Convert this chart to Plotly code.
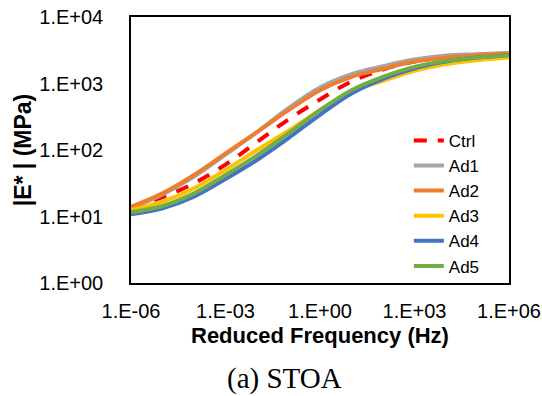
import plotly.graph_objects as go

# Reduced frequency (Hz), one point per decade
freq = [1e-6, 1e-5, 1e-4, 1e-3, 1e-2, 1e-1, 1e0, 1e1, 1e2, 1e3, 1e4, 1e5, 1e6]

# |E*| (MPa)
ctrl = [13.8, 19.5, 31.6, 60.3, 131.8, 288.4, 575.4, 1071, 1622, 2138, 2512, 2692, 2818]
ad1 = [13.2, 21.4, 39.8, 85.1, 186.2, 426.6, 871.0, 1380, 1820, 2291, 2630, 2754, 2884]
ad2 = [14.0, 22.3, 42.1, 89.1, 186.2, 398.1, 794.3, 1259, 1660, 2138, 2455, 2692, 2818]
ad3 = [12.5, 16.7, 26.6, 50.0, 100.0, 195.0, 398.1, 758.6, 1096, 1549, 1950, 2239, 2455]
ad4 = [10.8, 13.3, 19.9, 36.6, 70.8, 151.4, 338.8, 707.9, 1175, 1698, 2138, 2455, 2692]
ad5 = [11.6, 14.4, 22.3, 42.1, 83.2, 177.8, 398.1, 794.3, 1259, 1778, 2188, 2455, 2692]

names = ["Ctrl", "Ad1", "Ad2", "Ad3", "Ad4", "Ad5"]
series = [ctrl, ad1, ad2, ad3, ad4, ad5]
colors = ["#FF0000", "#A5A5A5", "#ED7D31", "#FFC000", "#4472C4", "#70AD47"]
dashes = ["13px,11px", "solid", "solid", "solid", "solid", "solid"]

x_tickvals = [1e-6, 1e-3, 1e0, 1e3, 1e6]
x_ticktext = ["1.E-06", "1.E-03", "1.E+00", "1.E+03", "1.E+06"]
y_tickvals = [1, 10, 100, 1000, 10000]
y_ticktext = ["1.E+00", "1.E+01", "1.E+02", "1.E+03", "1.E+04"]

fig = go.Figure()
for name, vals, col, dsh in zip(names, series, colors, dashes):
    fig.add_trace(go.Scatter(
        x=freq, y=vals, name=name, mode="lines",
        line=dict(color=col, width=4, dash=dsh, shape="spline", smoothing=1.0),
    ))

font_main = "Liberation Sans, Arial, sans-serif"

fig.update_layout(
    width=542, height=396,
    margin=dict(l=131, r=33, t=17, b=113, autoexpand=False),
    paper_bgcolor="white", plot_bgcolor="white",
    showlegend=True,
    legend=dict(
        x=0.735, y=0.602, xanchor="left", yanchor="top",
        bgcolor="rgba(0,0,0,0)", borderwidth=0,
        font=dict(family=font_main, size=17, color="#000000"),
        tracegroupgap=0,
    ),
    font=dict(family=font_main, color="#000000"),
)

fig.update_xaxes(
    type="log", range=[-6, 6], automargin=False,
    tickvals=x_tickvals, ticktext=x_ticktext,
    tickfont=dict(family=font_main, size=20, color="#000000"),
    showgrid=False, zeroline=False,
    showline=True, linecolor="#000000", linewidth=1.5, mirror=True,
    ticks="", ticklabelstandoff=9,
)
fig.update_yaxes(
    type="log", range=[0, 4], automargin=False,
    tickvals=y_tickvals, ticktext=y_ticktext,
    tickfont=dict(family=font_main, size=20, color="#000000"),
    showgrid=False, zeroline=False,
    showline=True, linecolor="#000000", linewidth=1.5, mirror=True,
    ticks="", ticklabelstandoff=22,
    title=dict(text="<b>|E* | (MPa)</b>",
               font=dict(family=font_main, size=23, color="#000000"), standoff=1),
)

fig.add_annotation(
    text="<b>Reduced Frequency (Hz)</b>", xref="paper", yref="paper",
    x=0.5, y=-(335 - 283) / 266,
    xanchor="center", yanchor="middle", showarrow=False,
    font=dict(family=font_main, size=22, color="#000000"),
)

fig.add_annotation(
    text="(a) STOA", xref="paper", yref="paper",
    x=(284 - 131) / 378, y=-(378 - 283) / 266,
    xanchor="center", yanchor="middle", showarrow=False,
    font=dict(family="Liberation Serif, Times New Roman, serif", size=29, color="#000000"),
)

fig.write_html("out.html")
